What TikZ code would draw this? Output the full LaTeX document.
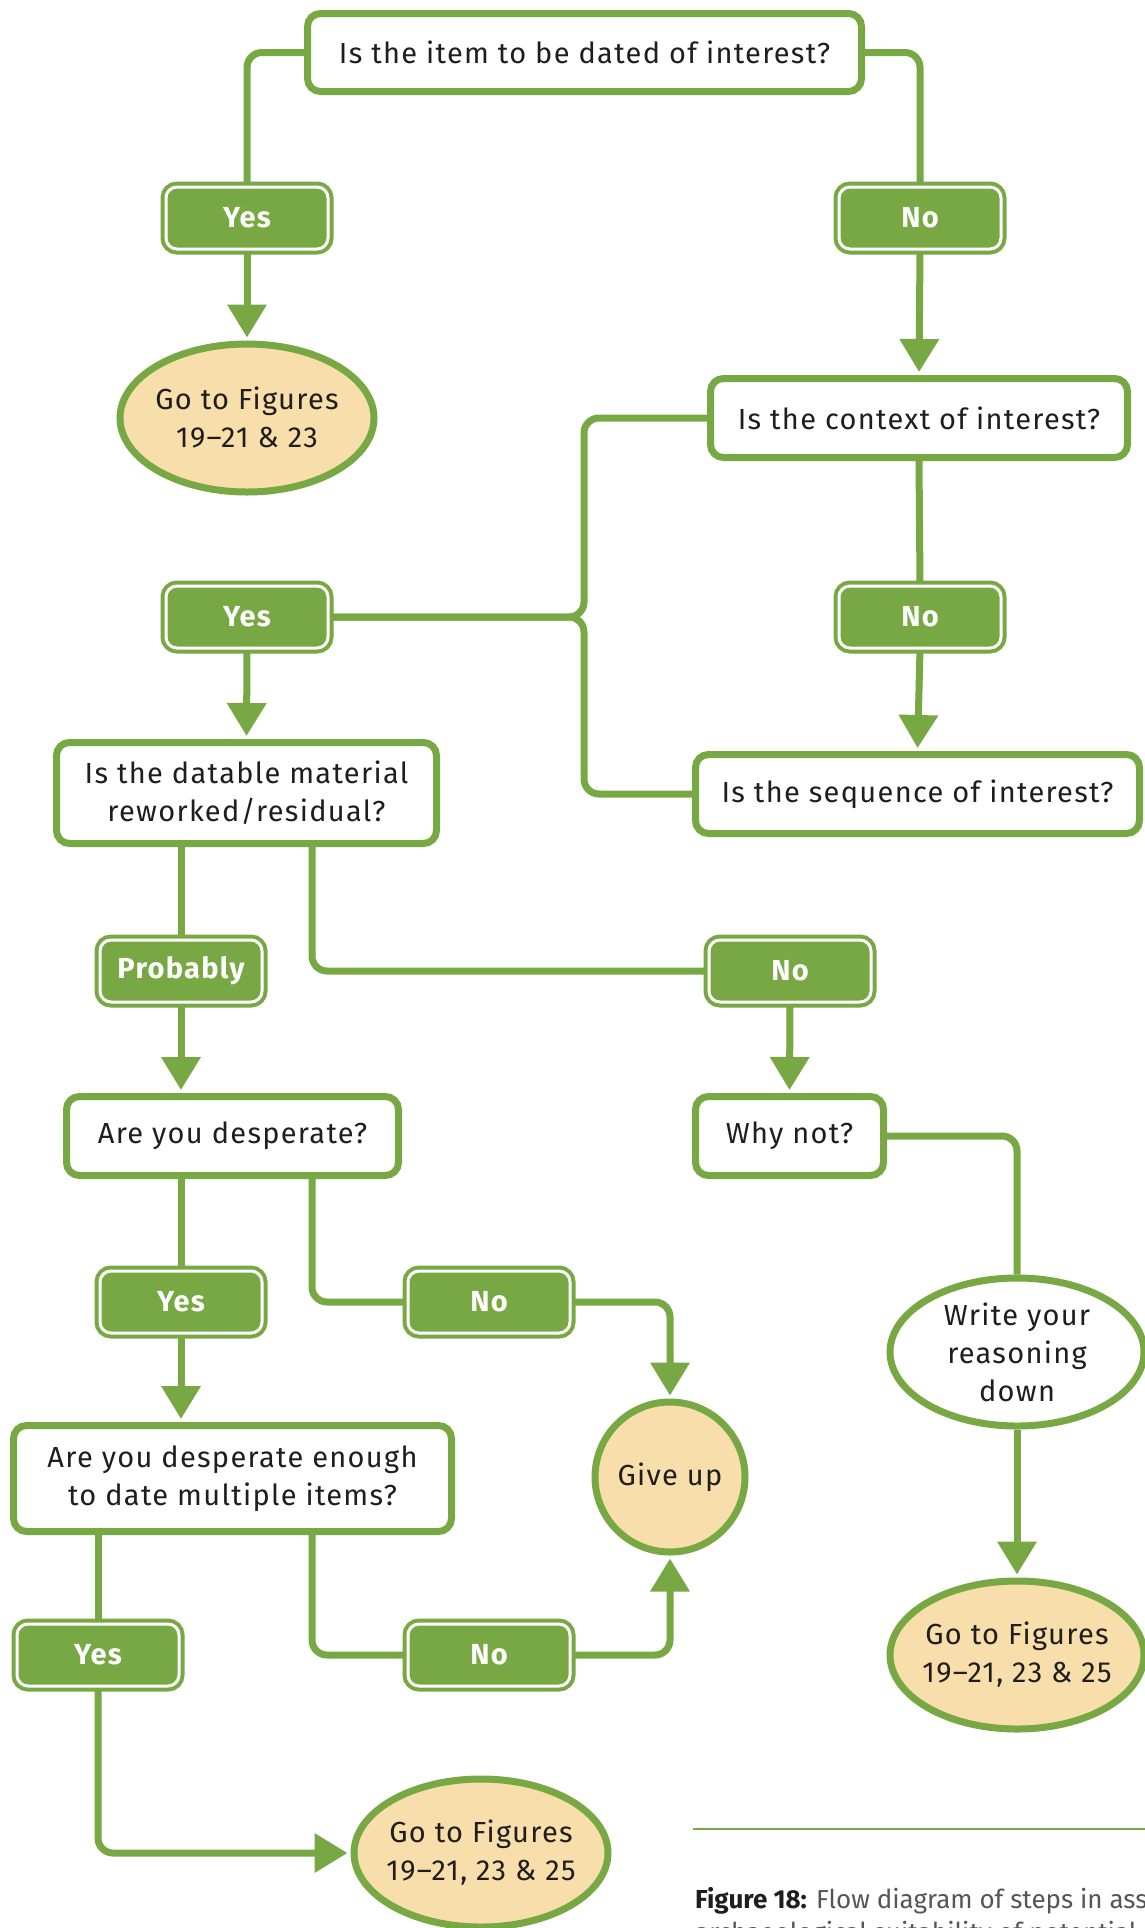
\documentclass[tikz,border=0pt]{standalone}
\usepackage{fontspec}
\setmainfont{Fira Sans}[LetterSpace=4.5]
\newfontfamily\captionfont{Fira Sans}
\usetikzlibrary{arrows.meta,shapes.geometric}
\definecolor{leaf}{HTML}{78A843}
\definecolor{peach}{HTML}{F7DEAB}
\definecolor{ink}{HTML}{1E1E1E}
\definecolor{captiongrey}{HTML}{555555}
\pgfdeclarelayer{bg}
\pgfsetlayers{bg,main}

\begin{document}
\begin{tikzpicture}[x=1pt,y=-1pt,
  every node/.style={font=\fontsize{29}{38}\selectfont, text=ink},
  qbox/.style={draw=leaf, line width=7pt, rounded corners=13pt, fill=white,
    inner sep=0pt, align=center},
  endpoint/.style={ellipse, draw=leaf, line width=7pt, fill=peach,
    inner xsep=-20pt, inner ysep=-12pt,
    minimum width=254pt, minimum height=148pt, align=center},
  note/.style={endpoint, fill=white},
  answer/.style={draw=leaf, fill=leaf, double=white, double distance=3pt,
    line width=4pt, rounded corners=11pt, minimum width=162pt, minimum height=62pt,
    inner sep=0pt, text=white, font=\fontsize{29}{38}\selectfont\bfseries},
  link/.style={draw=leaf, line width=7pt, rounded corners=15pt},
  arr/.style={link, -{Triangle[width=38pt,length=33pt]}, shorten >=3pt},
  captiontext/.style={anchor=base west, inner sep=0pt, text=captiongrey,
    font=\captionfont\fontsize{26}{32}\selectfont}]

\useasboundingbox (0,0) rectangle (1145,1928);

% questions
\node[qbox, minimum width=554pt, minimum height=78pt] (item) at (584.5,52.5)
  {Is the item to be dated of interest?};
\node[qbox, minimum width=417pt, minimum height=79pt] (context) at (919,418)
  {Is the context of interest?};
\node[qbox, minimum width=444pt, minimum height=79pt] (sequence) at (917.5,794)
  {Is the sequence of interest?};
\node[qbox, minimum width=380pt, minimum height=101pt] (datable) at (246.5,793)
  {Is the datable material\\reworked/residual?};
\node[qbox, minimum width=332pt, minimum height=79pt] (desperate) at (232.5,1136)
  {Are you desperate?};
\node[qbox, minimum width=188pt, minimum height=79pt] (whynot) at (789.5,1136)
  {Why not?};
\node[qbox, minimum width=438pt, minimum height=106pt] (multiple) at (232.5,1478.5)
  {Are you desperate enough\\to date multiple items?};

% outcomes
\node[endpoint] (figsA) at (247,418) {Go to Figures\\19--21 \& 23};
\node[note] (write) at (1017,1352) {Write your\\reasoning\\down};
\node[endpoint] (figsB) at (1017,1655) {Go to Figures\\19--21, 23 \& 25};
\node[endpoint] (figsC) at (481,1853) {Go to Figures\\19--21, 23 \& 25};
\node[circle, draw=leaf, line width=7pt, fill=peach, inner sep=0pt,
  minimum size=150pt] (giveup) at (670,1477) {Give up};

% answers
\node[answer] (yesA) at (247,218) {Yes};
\node[answer] (noA) at (920,218) {No};
\node[answer] (yesB) at (247,617) {Yes};
\node[answer] (noB) at (920,617) {No};
\node[answer] (probably) at (181,971) {Probably};
\node[answer] (noC) at (790,971) {No};
\node[answer] (yesD) at (181,1302) {Yes};
\node[answer] (noD) at (489,1302) {No};
\node[answer] (yesE) at (98,1655) {Yes};
\node[answer] (noE) at (489,1655) {No};

% helper columns for the branches
\coordinate (join) at (584,0);
\coordinate (rightleg) at (312,0);

\begin{pgfonlayer}{bg}
  \draw[link] (item.west) -| (yesA.north);
  \draw[arr] (yesA.south) -- (figsA.north);
  \draw[link] (item.east) -| (noA.north);
  \draw[arr] (noA.south) -- (context.north);

  \draw[link] (context.south) -- (noB.north);
  \draw[arr] (noB.south) -- (sequence.north);
  \draw[link] (context.west) -- (join |- context.west) -- (join |- yesB.east) -- (yesB.east);
  \draw[link] (sequence.west) -- (join |- sequence.west) -- (join |- yesB.east) -- (yesB.east);
  \draw[arr] (yesB.south) -- (datable.north);

  \draw[link] (datable.south -| probably) -- (probably.north);
  \draw[arr] (probably.south) -- (desperate.north -| probably);
  \draw[link] (datable.south -| rightleg) |- (noC.west);
  \draw[arr] (noC.south) -- (whynot.north);

  \draw[link] (whynot.east) -| (write.north);
  \draw[arr] (write.south) -- (figsB.north);

  \draw[link] (desperate.south -| yesD) -- (yesD.north);
  \draw[arr] (yesD.south) -- (multiple.north -| yesD);
  \draw[link] (desperate.south -| rightleg) |- (noD.west);
  \draw[arr] (noD.east) -| (giveup.north);

  \draw[link] (multiple.south -| yesE) -- (yesE.north);
  \draw[arr] (yesE.south) |- (figsC.west);
  \draw[link] (multiple.south -| rightleg) |- (noE.west);
  \draw[arr] (noE.east) -| (giveup.south);
\end{pgfonlayer}

% caption
\coordinate (rulestart) at (693,1829);
\coordinate (ruleend) at (1145,1829);
\draw[leaf, line width=1.5pt] (rulestart) -- (ruleend);
\node[captiontext] (caption1) at (695,1908)
  {\textcolor{ink}{\textbf{Figure 18:}} Flow diagram of steps in assessing the};
\node[captiontext] (caption2) at (695,1941)
  {archaeological suitability of potential};
\end{tikzpicture}
\end{document}
